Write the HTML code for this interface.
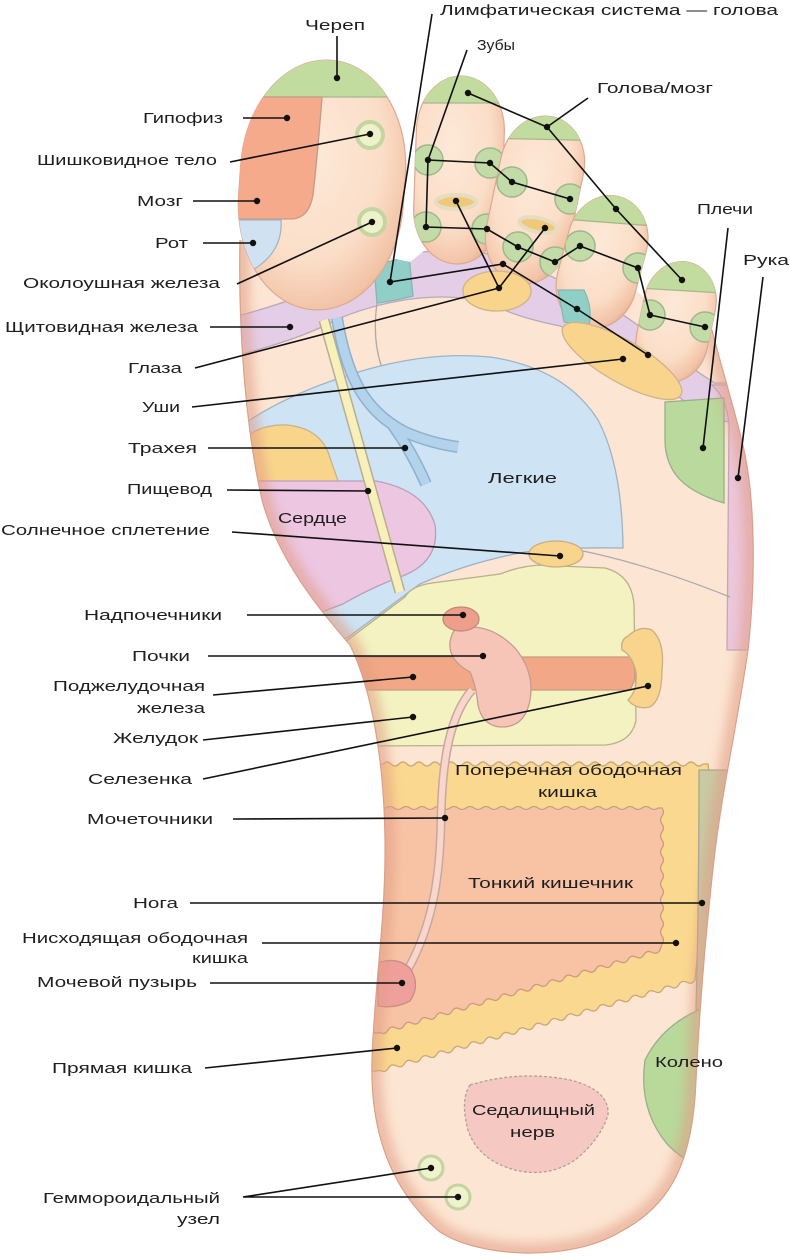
<!DOCTYPE html>
<html><head><meta charset="utf-8">
<style>
html,body{margin:0;padding:0;background:#fff;}
svg{display:block;}
text{font-family:"Liberation Sans","DejaVu Sans",sans-serif;font-size:15px;fill:#1e1e1e;}
</style></head><body>
<svg width="790" height="1260" viewBox="0 0 790 1260" xmlns="http://www.w3.org/2000/svg">
<defs>
 <clipPath id="sole"><path d="M240,240 C238,330 246,430 262,500 C278,560 320,610 350,645 C372,690 384,760 385,840 C386,920 374,990 372,1060 C370,1130 390,1190 440,1232 C480,1258 570,1262 620,1232 C672,1205 693,1160 696,1080 C700,1000 706,930 714,860 C722,790 738,720 748,650 C756,580 755,500 744,450 C735,410 722,370 712,330 L700,310 L645,298 L600,260 L575,232 L530,215 L505,200 L470,215 L410,262 L400,260 L330,245 Z"/></clipPath>
 <clipPath id="c1"><rect x="239.5" y="60" width="165" height="250" rx="82" ry="110" transform="rotate(4 322 185)"/></clipPath>
 <clipPath id="c2"><rect x="415" y="76" width="88" height="188" rx="44" ry="55" transform="rotate(2 459 170)"/></clipPath>
 <clipPath id="c3"><rect x="493" y="115" width="84" height="170" rx="42" ry="50" transform="rotate(12 535 200)"/></clipPath>
 <clipPath id="c4"><rect x="562" y="194.5" width="80" height="135" rx="40" ry="46" transform="rotate(15 602 262)"/></clipPath>
 <clipPath id="c5"><rect x="640" y="261" width="72" height="122" rx="36" ry="42" transform="rotate(12 676 322)"/></clipPath>
 <radialGradient id="tg" cx="0.42" cy="0.38" r="0.72">
  <stop offset="0" stop-color="#fde9d8"/><stop offset="0.6" stop-color="#fbdec8"/><stop offset="0.88" stop-color="#f2c3a6"/><stop offset="1" stop-color="#e3a88c"/>
 </radialGradient>
 <filter id="bl" x="-20%" y="-20%" width="140%" height="140%"><feGaussianBlur stdDeviation="5"/></filter>
</defs>

<path d="M240,240 C238,330 246,430 262,500 C278,560 320,610 350,645 C372,690 384,760 385,840 C386,920 374,990 372,1060 C370,1130 390,1190 440,1232 C480,1258 570,1262 620,1232 C672,1205 693,1160 696,1080 C700,1000 706,930 714,860 C722,790 738,720 748,650 C756,580 755,500 744,450 C735,410 722,370 712,330 L700,310 L645,298 L600,260 L575,232 L530,215 L505,200 L470,215 L410,262 L400,260 L330,245 Z" fill="#fce5d2"/>

<g clip-path="url(#sole)" stroke-width="1.3">
 <path d="M230,318 Q300,300 372,268 L420,252 L470,250 Q520,260 565,283 Q620,308 660,343 Q690,368 715,383 L760,383 L760,425 L712,420 Q680,398 650,377 Q600,342 560,326 Q520,318 495,306 Q465,294 420,298 Q380,302 340,318 Q300,340 230,357 Z" fill="#e4cde7" stroke="#b9a8bc"/>
 <path d="M712,385 Q727,398 729,425 L727,650 L770,650 L770,385 Z" fill="#ecc6da" stroke="#c0a8b8"/>
 <path d="M374,266 L409,256 L413,296 Q394,301 377,303 Z" fill="#8fcfc7" stroke="#8cb4ac"/>
 <path d="M377,303 Q372,340 382,368" fill="none" stroke="#b3aaa2"/>
 <path d="M238,428 Q280,398 340,378 Q420,350 490,357 Q565,368 598,420 Q622,465 623,548 Q560,547 525,552 Q470,562 420,584 L347,638 L238,638 Z" fill="#cee3f4" stroke="#9fb3c3"/>
 <path d="M238,482 L238,445 Q255,424 287,425 Q318,428 328,452 L338,481 Z" fill="#f9d58c" stroke="#c9b48a"/>
 <path d="M238,481 L376,481 Q425,490 435,525 Q440,560 405,575 Q370,588 343,604 L300,620 L238,620 Z" fill="#edc6e1" stroke="#b8a0b8"/>
 <path d="M324,320 L400,592" stroke="#b8ae90" stroke-width="11" fill="none"/>
 <path d="M324,320 L400,592" stroke="#f7f0ba" stroke-width="8" fill="none"/>
 <path d="M337,318 C346,372 362,410 405,432 Q430,443 458,447" stroke="#8fb2cc" stroke-width="12" fill="none"/>
 <path d="M392,424 Q412,452 426,484" stroke="#8fb2cc" stroke-width="12" fill="none"/>
 <path d="M337,318 C346,372 362,410 405,432 Q430,443 458,447" stroke="#b3d2eb" stroke-width="9" fill="none"/>
 <path d="M392,424 Q412,452 426,484" stroke="#b3d2eb" stroke-width="9" fill="none"/>
 <path d="M665,402 L724,398 L724,503 Q690,493 676,475 Q665,460 665,440 Z" fill="#bad99c" stroke="#98ae8c"/>
 <path d="M583,551 Q650,565 730,597" fill="none" stroke="#a8aab2"/>
 <path d="M345,642 L405,597 Q411,586 432,583 L500,574 Q530,562 560,566 L605,568 Q632,575 634,605 L636,720 Q632,742 606,745 L340,746 Z" fill="#f3f2c0" stroke="#b6b08c"/>
 <ellipse cx="556" cy="554" rx="27" ry="13" fill="#f9d48c" stroke="#c6ae80"/>
 <path d="M340,657 L630,657 Q640,673 630,690 L340,690 Z" fill="#f2a886" stroke="#c89a80"/>
 <path d="M628,636 Q640,625 652,630 Q665,642 662,670 Q662,700 650,707 Q636,710 628,700 Q638,690 636,672 Q632,655 622,650 Q620,640 628,636 Z" fill="#f9d48c" stroke="#c8b080"/>
 <path d="M383,764 q4,-4 8,0 t8,0 t8,0 t8,0 t8,0 t8,0 t8,0 t8,0 t8,0 t8,0 t8,0 t8,0 t8,0 t8,0 t8,0 t8,0 t8,0 t8,0 t8,0 t8,0 t8,0 t8,0 t8,0 t8,0 t8,0 t8,0 t8,0 t8,0 t8,0 t8,0 t8,0 t8,0 t8,0 t8,0 t8,0 t8,0 t8,0 t8,0 t8,0 t8,0 L708,764 L712,800 L703,900 L695,980 q-2.9,5 -8.07,2.32 t-8.07,2.32 t-8.07,2.32 t-8.07,2.32 t-8.07,2.32 t-8.07,2.32 t-8.07,2.32 t-8.07,2.32 t-8.07,2.32 t-8.07,2.32 t-8.07,2.32 t-8.07,2.32 t-8.07,2.32 t-8.07,2.32 t-8.07,2.32 t-8.07,2.32 t-8.07,2.32 t-8.07,2.32 t-8.07,2.32 t-8.07,2.32 t-8.07,2.32 t-8.07,2.32 t-8.07,2.32 t-8.07,2.32 t-8.07,2.32 t-8.07,2.32 t-8.07,2.32 t-8.07,2.32 t-8.07,2.32 t-8.07,2.32 t-8.07,2.32 t-8.07,2.32 t-8.07,2.32 t-8.07,2.32 t-8.07,2.32 t-8.07,2.32 t-8.07,2.32 t-8.07,2.32 t-8.07,2.32 L355,1073 L355,764 Z" fill="#fbd88f" stroke="#c8aa78"/>
 <path d="M386,808 q4,-3 8,0 t8,0 t8,0 t8,0 t8,0 t8,0 t8,0 t8,0 t8,0 t8,0 t8,0 t8,0 t8,0 t8,0 t8,0 t8,0 t8,0 t8,0 t8,0 t8,0 t8,0 t8,0 t8,0 t8,0 t8,0 t8,0 t8,0 t8,0 t8,0 t8,0 t8,0 t8,0 t8,0 t8,0 L662,808 q3,4 0,8 t0,8 t0,8 t0,8 t0,8 t0,8 t0,8 t0,8 t0,8 t0,8 t0,8 t0,8 t0,8 t0,8 t0,8 t0,8 t0,8 L660,950 q-2.9,5 -8,2.36 t-8,2.36 t-8,2.36 t-8,2.36 t-8,2.36 t-8,2.36 t-8,2.36 t-8,2.36 t-8,2.36 t-8,2.36 t-8,2.36 t-8,2.36 t-8,2.36 t-8,2.36 t-8,2.36 t-8,2.36 t-8,2.36 t-8,2.36 t-8,2.36 t-8,2.36 t-8,2.36 t-8,2.36 t-8,2.36 t-8,2.36 t-8,2.36 t-8,2.36 t-8,2.36 t-8,2.36 t-8,2.36 t-8,2.36 t-8,2.36 t-8,2.36 t-8,2.36 t-8,2.36 t-8,2.36 L355,1035 L355,808 Z" fill="#f8c3a4" stroke="#c89c84"/>
 <path d="M458,628 Q490,622 515,648 Q535,672 530,700 Q525,728 500,727 Q482,725 478,705 Q476,685 470,672 Q448,660 450,642 Q452,630 458,628 Z" fill="#f7c5b8" stroke="#c49c90"/>
 <ellipse cx="461" cy="619" rx="18" ry="12" fill="#ee9f8c" stroke="#c08878"/>
 <path d="M472,690 C450,715 442,760 441,820 C440,880 432,930 403,978" stroke="#c8a89e" stroke-width="9" fill="none"/>
 <path d="M472,690 C450,715 442,760 441,820 C440,880 432,930 403,978" stroke="#f8d6cb" stroke-width="6" fill="none"/>
 <path d="M378,963 Q396,956 410,968 Q421,985 410,1001 Q395,1009 378,1006 Z" fill="#f0a09c" stroke="#c88c88"/>
 <path d="M712,1005 Q665,1020 645,1060 Q638,1110 668,1145 Q685,1162 700,1165 L730,1165 L730,1005 Z" fill="#b9d99b" stroke="#98ae8c"/>
 <path d="M699,770 L730,770 L730,1010 L696,1010 Q699,900 699,770 Z" fill="#c9caa4" stroke="#a8a88c"/>
 <path d="M470,1085 Q520,1070 570,1080 Q610,1090 608,1115 Q600,1140 575,1160 Q548,1178 515,1170 Q478,1160 468,1130 Q460,1100 470,1085 Z" fill="#f6c8c2" stroke="#b0a098" stroke-dasharray="3,2"/>
 <circle cx="431" cy="1168" r="12" fill="#eef3cc" stroke="#c5d3a0" stroke-width="3"/>
 <circle cx="458" cy="1197" r="12" fill="#eef3cc" stroke="#c5d3a0" stroke-width="3"/>
 <path d="M240,240 C238,330 246,430 262,500 C278,560 320,610 350,645 C372,690 384,760 385,840 C386,920 374,990 372,1060 C370,1130 390,1190 440,1232 C480,1258 570,1262 620,1232 C672,1205 693,1160 696,1080 C700,1000 706,930 714,860 C722,790 738,720 748,650 C756,580 755,500 744,450 C735,410 722,370 712,330" fill="none" stroke="#e09c84" stroke-width="20" opacity="0.55" filter="url(#bl)"/>
</g>
<path d="M240,240 C238,330 246,430 262,500 C278,560 320,610 350,645 C372,690 384,760 385,840 C386,920 374,990 372,1060 C370,1130 390,1190 440,1232 C480,1258 570,1262 620,1232 C672,1205 693,1160 696,1080 C700,1000 706,930 714,860 C722,790 738,720 748,650 C756,580 755,500 744,450 C735,410 722,370 712,330" fill="none" stroke="#d9a08a" stroke-width="1.2"/>

<rect x="239.5" y="60" width="165" height="250" rx="82" ry="110" transform="rotate(4 322 185)" fill="url(#tg)" stroke="#dca993" stroke-width="1.2"/>
<g clip-path="url(#c1)">
 <rect x="200" y="0" width="250" height="97" fill="#c2dca0"/>
 <line x1="200" y1="97" x2="450" y2="97" stroke="#a6b68e" stroke-width="1.3"/>
 <path d="M225,97 L322,97 Q318,150 313,195 Q309,218 292,219 L225,219 Z" fill="#f4aa8b" stroke="#c49a88" stroke-width="1.3"/>
 <path d="M225,220 L281,220 Q283,250 256,268 Q244,274 225,275 Z" fill="#d0e2f2" stroke="#a8b4c0" stroke-width="1.3"/>
 <circle cx="370" cy="135" r="13" fill="#eef2cb" stroke="#c5d59f" stroke-width="4"/>
 <circle cx="372" cy="222" r="13" fill="#eef2cb" stroke="#c5d59f" stroke-width="4"/>
</g>

<rect x="415" y="76" width="88" height="188" rx="44" ry="55" transform="rotate(2 459 170)" fill="url(#tg)" stroke="#dca993" stroke-width="1.2"/>
<g clip-path="url(#c2)">
 <rect x="400" y="0" width="120" height="103" fill="#c2dca0"/>
 <line x1="400" y1="103" x2="520" y2="103" stroke="#a6b68e" stroke-width="1.3"/>
 <circle cx="428" cy="160" r="15" fill="#c3dca7" stroke="#9fb78c" stroke-width="1.5"/>
 <circle cx="490" cy="163" r="15" fill="#c3dca7" stroke="#9fb78c" stroke-width="1.5"/>
 <circle cx="426" cy="227" r="15" fill="#c3dca7" stroke="#9fb78c" stroke-width="1.5"/>
 <circle cx="487" cy="229" r="15" fill="#c3dca7" stroke="#9fb78c" stroke-width="1.5"/>
 <ellipse cx="456" cy="202" rx="20" ry="7" fill="#efc878" stroke="#e6dcc0" stroke-width="4"/>
</g>

<rect x="493" y="115" width="84" height="170" rx="42" ry="50" transform="rotate(12 535 200)" fill="url(#tg)" stroke="#dca993" stroke-width="1.2"/>
<g clip-path="url(#c3)">
 <polygon points="480,0 620,0 620,141 480,138" fill="#c2dca0"/>
 <line x1="480" y1="138" x2="620" y2="141" stroke="#a6b68e" stroke-width="1.3"/>
 <circle cx="512" cy="182" r="15" fill="#c3dca7" stroke="#9fb78c" stroke-width="1.5"/>
 <circle cx="570" cy="199" r="15" fill="#c3dca7" stroke="#9fb78c" stroke-width="1.5"/>
 <circle cx="518" cy="247" r="15" fill="#c3dca7" stroke="#9fb78c" stroke-width="1.5"/>
 <circle cx="555" cy="262" r="15" fill="#c3dca7" stroke="#9fb78c" stroke-width="1.5"/>
 <ellipse cx="538" cy="225" rx="19" ry="7" transform="rotate(12 538 225)" fill="#efc878" stroke="#e6dcc0" stroke-width="4"/>
</g>

<rect x="562" y="194.5" width="80" height="135" rx="40" ry="46" transform="rotate(15 602 262)" fill="url(#tg)" stroke="#dca993" stroke-width="1.2"/>
<g clip-path="url(#c4)">
 <polygon points="550,0 680,0 680,228 550,218" fill="#c2dca0"/>
 <line x1="550" y1="218" x2="680" y2="228" stroke="#a6b68e" stroke-width="1.3"/>
 <circle cx="580" cy="246" r="15" fill="#c3dca7" stroke="#9fb78c" stroke-width="1.5"/>
 <circle cx="638" cy="268" r="15" fill="#c3dca7" stroke="#9fb78c" stroke-width="1.5"/>
</g>

<rect x="640" y="261" width="72" height="122" rx="36" ry="42" transform="rotate(12 676 322)" fill="url(#tg)" stroke="#dca993" stroke-width="1.2"/>
<g clip-path="url(#c5)">
 <polygon points="620,0 740,0 740,294 620,287" fill="#c2dca0"/>
 <line x1="620" y1="287" x2="740" y2="294" stroke="#a6b68e" stroke-width="1.3"/>
 <circle cx="650" cy="315" r="15" fill="#c3dca7" stroke="#9fb78c" stroke-width="1.5"/>
 <circle cx="705" cy="327" r="15" fill="#c3dca7" stroke="#9fb78c" stroke-width="1.5"/>
</g>

<path d="M558,290 L584,290 Q593,308 589,326 L564,322 Z" fill="#8fcfc7" stroke="#8cb4ac" stroke-width="1.2"/>
<ellipse cx="497" cy="291" rx="34" ry="20" fill="#f9d48c" stroke="#cdb48a" stroke-width="1.3"/>
<ellipse cx="622" cy="361" rx="68" ry="21" transform="rotate(30 622 361)" fill="#f9d48c" stroke="#cdb48a" stroke-width="1.3"/>

<g stroke="#111" stroke-width="1.6" fill="none">
 <path d="M337,36 L337,78"/>
 <path d="M432,14 L390,282 L503,264 L577,309 L648,355"/>
 <path d="M467,50 L428,160 L490,163 L512,182 L570,199"/>
 <path d="M428,160 L426,227 L487,229 L518,247 L555,262 L580,246 L638,268 L650,315 L705,327"/>
 <path d="M588,98 L547,127"/>
 <path d="M468,93 L547,127 L616,209 L682,280"/>
 <path d="M195,368 L499,288"/>
 <path d="M456,201 L499,288 L545,228"/>
 <path d="M728,228 L703,448"/>
 <path d="M763,277 L738,478"/>
 <path d="M243,118 L287,118"/>
 <path d="M230,162 L370,134"/>
 <path d="M193,201 L257,201"/>
 <path d="M203,243 L253,243"/>
 <path d="M237,284 L372,222"/>
 <path d="M210,327 L290,327"/>
 <path d="M192,407 L623,359"/>
 <path d="M208,448 L405,448"/>
 <path d="M227,490 L368,491"/>
 <path d="M232,532 L560,556"/>
 <path d="M247,615 L463,615"/>
 <path d="M208,656 L483,656"/>
 <path d="M213,695 L413,677"/>
 <path d="M203,740 L413,717"/>
 <path d="M203,779 L648,686"/>
 <path d="M233,819 L445,818"/>
 <path d="M190,903 L702,903"/>
 <path d="M262,943 L676,943"/>
 <path d="M210,983 L402,983"/>
 <path d="M205,1068 L397,1048"/>
 <path d="M243,1197 L431,1168 M243,1197 L458,1197"/>
</g>
<g fill="#111">
 <circle cx="337" cy="78" r="3.2"/><circle cx="390" cy="282" r="3.2"/><circle cx="503" cy="264" r="3.2"/><circle cx="577" cy="309" r="3.2"/><circle cx="648" cy="355" r="3.2"/>
 <circle cx="428" cy="160" r="3.2"/><circle cx="490" cy="163" r="3.2"/><circle cx="512" cy="182" r="3.2"/><circle cx="570" cy="199" r="3.2"/>
 <circle cx="426" cy="227" r="3.2"/><circle cx="487" cy="229" r="3.2"/><circle cx="518" cy="247" r="3.2"/><circle cx="555" cy="262" r="3.2"/>
 <circle cx="580" cy="246" r="3.2"/><circle cx="638" cy="268" r="3.2"/><circle cx="650" cy="315" r="3.2"/><circle cx="705" cy="327" r="3.2"/>
 <circle cx="547" cy="127" r="3.2"/><circle cx="468" cy="93" r="3.2"/><circle cx="616" cy="209" r="3.2"/><circle cx="682" cy="280" r="3.2"/>
 <circle cx="499" cy="288" r="3.2"/><circle cx="456" cy="201" r="3.2"/><circle cx="545" cy="228" r="3.2"/>
 <circle cx="703" cy="448" r="3.2"/><circle cx="738" cy="478" r="3.2"/>
 <circle cx="287" cy="118" r="3.2"/><circle cx="370" cy="134" r="3.2"/><circle cx="257" cy="201" r="3.2"/><circle cx="253" cy="243" r="3.2"/>
 <circle cx="372" cy="222" r="3.2"/><circle cx="290" cy="327" r="3.2"/><circle cx="623" cy="359" r="3.2"/><circle cx="405" cy="448" r="3.2"/>
 <circle cx="368" cy="491" r="3.2"/><circle cx="560" cy="556" r="3.2"/><circle cx="463" cy="615" r="3.2"/><circle cx="483" cy="656" r="3.2"/>
 <circle cx="413" cy="677" r="3.2"/><circle cx="413" cy="717" r="3.2"/><circle cx="648" cy="686" r="3.2"/><circle cx="445" cy="818" r="3.2"/>
 <circle cx="702" cy="903" r="3.2"/><circle cx="676" cy="943" r="3.2"/><circle cx="402" cy="983" r="3.2"/><circle cx="397" cy="1048" r="3.2"/>
 <circle cx="431" cy="1168" r="3.2"/><circle cx="458" cy="1197" r="3.2"/>
</g>

<g>
 <text x="305" y="30" textLength="60" lengthAdjust="spacingAndGlyphs">Череп</text>
 <text x="440" y="15" textLength="338" lengthAdjust="spacingAndGlyphs">Лимфатическая система — голова</text>
 <text x="477" y="50" textLength="38" lengthAdjust="spacingAndGlyphs">Зубы</text>
 <text x="597" y="93" textLength="116" lengthAdjust="spacingAndGlyphs">Голова/мозг</text>
 <text x="697" y="214" textLength="56" lengthAdjust="spacingAndGlyphs">Плечи</text>
 <text x="743" y="265" textLength="46" lengthAdjust="spacingAndGlyphs">Рука</text>

 <text x="143" y="123" textLength="80" lengthAdjust="spacingAndGlyphs">Гипофиз</text>
 <text x="37" y="165" textLength="180" lengthAdjust="spacingAndGlyphs">Шишковидное тело</text>
 <text x="137" y="206" textLength="46" lengthAdjust="spacingAndGlyphs">Мозг</text>
 <text x="155" y="248" textLength="33" lengthAdjust="spacingAndGlyphs">Рот</text>
 <text x="23" y="288" textLength="197" lengthAdjust="spacingAndGlyphs">Околоушная железа</text>
 <text x="5" y="332" textLength="193" lengthAdjust="spacingAndGlyphs">Щитовидная железа</text>
 <text x="128" y="373" textLength="54" lengthAdjust="spacingAndGlyphs">Глаза</text>
 <text x="142" y="412" textLength="38" lengthAdjust="spacingAndGlyphs">Уши</text>
 <text x="128" y="453" textLength="69" lengthAdjust="spacingAndGlyphs">Трахея</text>
 <text x="127" y="494" textLength="85" lengthAdjust="spacingAndGlyphs">Пищевод</text>
 <text x="1" y="535" textLength="209" lengthAdjust="spacingAndGlyphs">Солнечное сплетение</text>
 <text x="84" y="620" textLength="138" lengthAdjust="spacingAndGlyphs">Надпочечники</text>
 <text x="132" y="661" textLength="58" lengthAdjust="spacingAndGlyphs">Почки</text>
 <text x="53" y="691" textLength="152" lengthAdjust="spacingAndGlyphs">Поджелудочная</text>
 <text x="137" y="713" textLength="68" lengthAdjust="spacingAndGlyphs">железа</text>
 <text x="113" y="743" textLength="85" lengthAdjust="spacingAndGlyphs">Желудок</text>
 <text x="88" y="784" textLength="104" lengthAdjust="spacingAndGlyphs">Селезенка</text>
 <text x="87" y="824" textLength="126" lengthAdjust="spacingAndGlyphs">Мочеточники</text>
 <text x="133" y="908" textLength="45" lengthAdjust="spacingAndGlyphs">Нога</text>
 <text x="22" y="943" textLength="226" lengthAdjust="spacingAndGlyphs">Нисходящая ободочная</text>
 <text x="192" y="963" textLength="56" lengthAdjust="spacingAndGlyphs">кишка</text>
 <text x="37" y="987" textLength="160" lengthAdjust="spacingAndGlyphs">Мочевой пузырь</text>
 <text x="52" y="1073" textLength="140" lengthAdjust="spacingAndGlyphs">Прямая кишка</text>
 <text x="43" y="1203" textLength="177" lengthAdjust="spacingAndGlyphs">Геммороидальный</text>
 <text x="177" y="1224" textLength="43" lengthAdjust="spacingAndGlyphs">узел</text>

 <text x="488" y="483" textLength="69" lengthAdjust="spacingAndGlyphs">Легкие</text>
 <text x="278" y="523" textLength="69" lengthAdjust="spacingAndGlyphs">Сердце</text>
 <text x="455" y="775" textLength="227" lengthAdjust="spacingAndGlyphs">Поперечная ободочная</text>
 <text x="538" y="797" textLength="59" lengthAdjust="spacingAndGlyphs">кишка</text>
 <text x="468" y="888" textLength="165" lengthAdjust="spacingAndGlyphs">Тонкий кишечник</text>
 <text x="655" y="1067" textLength="68" lengthAdjust="spacingAndGlyphs">Колено</text>
 <text x="472" y="1115" textLength="123" lengthAdjust="spacingAndGlyphs">Седалищный</text>
 <text x="510" y="1137" textLength="45" lengthAdjust="spacingAndGlyphs">нерв</text>
</g>
</svg>
</body></html>
